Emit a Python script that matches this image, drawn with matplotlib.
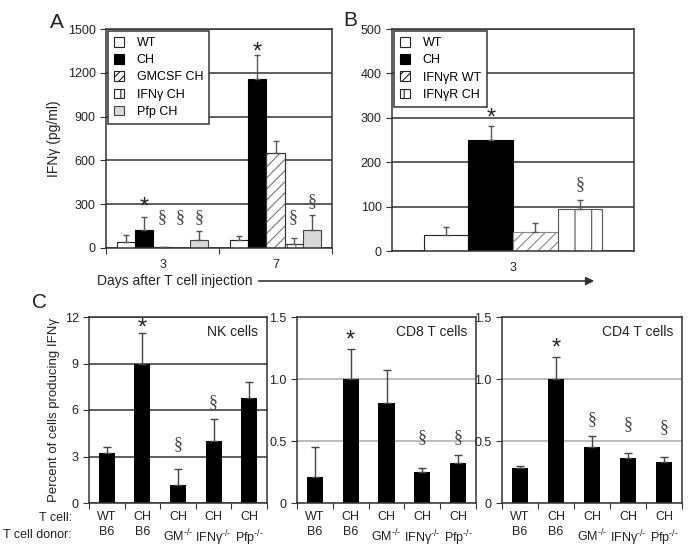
import matplotlib
matplotlib.use('Agg')
import matplotlib.pyplot as plt
import matplotlib.patches as mpatches
import numpy as np

plt.rcParams['font.family'] = ['Liberation Sans', 'DejaVu Sans']
plt.rcParams['font.size'] = 9
plt.rcParams['mathtext.fontset'] = 'custom'
plt.rcParams['mathtext.rm'] = 'Liberation Sans'
plt.rcParams['hatch.linewidth'] = 0.8

W, H = 693, 549

## Data ##
# panel A: IFNg in serum (pg/ml), days 3 and 7
a_days = ['3', '7']
a_groups = ['WT', 'CH', 'GMCSF CH', 'IFNγ CH', 'Pfp CH']
a_vals = [[41, 126, 5, 0, 57],
          [52, 1160, 651, 30, 121]]
a_errtop = [[87, 212, 9, 0, 114],
            [84, 1324, 731, 70, 228]]
a_marks = [['', '*', '§', '§', '§'],
           ['', '*', '', '§', '§']]
a_mark_y = [[0, 315, 205, 205, 205],
            [0, 1377, 0, 205, 315]]

# panel B
b_days = ['3']
b_groups = ['WT', 'CH', 'IFNγR WT', 'IFNγR CH']
b_vals = [36, 249, 42, 95]
b_errtop = [53, 282, 64, 115]
b_marks = ['', '*', '', '§']
b_mark_y = [0, 311, 0, 149]

# panel C
KO = '$^{\\mathregular{\u2010/\u2010}}$'
c_tcell = ['WT', 'CH', 'CH', 'CH', 'CH']
c_donor = ['B6', 'B6', 'GM' + KO, 'IFNγ' + KO, 'Pfp' + KO]
nk_vals = [3.2, 9.0, 1.16, 4.0, 6.75]
nk_err = [3.6, 11.0, 2.2, 5.4, 7.8]
nk_marks = ['', '*', '§', '§', '']
nk_mark_y = [0, 11.6, 3.74, 6.5, 0]
cd8_vals = [0.21, 1.0, 0.81, 0.25, 0.32]
cd8_err = [0.45, 1.24, 1.07, 0.28, 0.39]
cd8_marks = ['', '*', '', '§', '§']
cd8_mark_y = [0, 1.355, 0, 0.53, 0.53]
cd4_vals = [0.28, 1.0, 0.45, 0.36, 0.33]
cd4_err = [0.30, 1.18, 0.54, 0.40, 0.37]
cd4_marks = ['', '*', '§', '§', '§']
cd4_mark_y = [0, 1.29, 0.67, 0.63, 0.61]


def box(l, t, r, b):  # pixel box -> figure fraction
    return [l / W, 1 - b / H, (r - l) / W, (b - t) / H]


a_styles = [dict(color='white', edgecolor='#222'),
            dict(color='black', edgecolor='black'),
            dict(color='white', edgecolor='#777', hatch='///'),
            dict(color='white', edgecolor='#777', hatch='||'),
            dict(color='#d8d8d8', edgecolor='#444')]
b_styles = [dict(color='white', edgecolor='#222'),
            dict(color='black', edgecolor='black'),
            dict(color='white', edgecolor='#888', hatch='///'),
            dict(color='white', edgecolor='#555', hatch='|')]


def mark(ax, x, y, s):
    if s == '*':
        # asterisk glyph sits high in its box, nudge it down a little
        ax.annotate(s, (x, y), xytext=(0, -4), textcoords='offset points',
                    ha='center', va='center', fontsize=17, color='#222')
    elif s:
        ax.text(x, y, s, ha='center', va='center', fontsize=13, color='#444',
                family='Liberation Serif')


def frame(ax, gridcolor):
    ax.set_axisbelow(True)
    ax.yaxis.grid(True, color=gridcolor, lw=1.1)
    for s in ax.spines.values():
        s.set_color('#333')
        s.set_linewidth(1.1)
    ax.tick_params(axis='y', direction='out', length=4, color='#333', labelcolor='#222')


def legend(ax, handles, labels):
    leg = ax.legend(handles, labels, loc='upper left', bbox_to_anchor=(0.0, 1.0),
                    borderaxespad=0.15, fancybox=False, framealpha=1, edgecolor='#333',
                    fontsize=9, handlelength=0.8, handleheight=0.8, handletextpad=1.0,
                    labelspacing=0.4, borderpad=0.5)
    leg.get_frame().set_linewidth(1.1)


fig = plt.figure(figsize=(W / 100, H / 100), dpi=100)

## Panel A ##
ax = fig.add_axes(box(106, 29, 332, 248))
bw = 0.16
for d in range(len(a_days)):
    for g in range(len(a_groups)):
        x = d + (g - 2) * bw
        st = a_styles[g]
        ax.bar(x, a_vals[d][g], bw, color=st['color'], edgecolor=st['edgecolor'],
               hatch=st.get('hatch'), lw=0.8, zorder=2)
        if st.get('hatch'):
            ax.bar(x, a_vals[d][g], bw, fill=False, edgecolor='#333', lw=0.8, zorder=2)
        if a_errtop[d][g] > a_vals[d][g]:
            ax.errorbar(x, a_vals[d][g], yerr=[[0], [a_errtop[d][g] - a_vals[d][g]]],
                        fmt='none', ecolor='#555', capsize=2.5, elinewidth=1, zorder=3)
        mark(ax, x, a_mark_y[d][g], a_marks[d][g])
ax.set_xlim(-0.5, 1.5)
ax.set_ylim(0, 1500)
ax.set_yticks([0, 300, 600, 900, 1200, 1500])
ax.set_xticks([-0.5, 0.5, 1.5])
ax.set_xticklabels([])
ax.set_xticks([0, 1], minor=True)
ax.set_xticklabels(a_days, minor=True)
ax.tick_params(axis='x', which='major', direction='out', length=4, color='#333')
ax.tick_params(axis='x', which='minor', length=0, pad=8, labelcolor='#222')
frame(ax, '#333')
ax.set_ylabel('IFNγ (pg/ml)', fontsize=10, color='#222', labelpad=5)
legend(ax, [mpatches.Patch(facecolor='white', edgecolor='#222', lw=0.8),
            mpatches.Patch(facecolor='black', edgecolor='black', lw=0.8),
            mpatches.Patch(facecolor='white', edgecolor='#222', hatch='////', lw=0.8),
            mpatches.Patch(facecolor='white', edgecolor='#222', hatch='||', lw=0.8),
            mpatches.Patch(facecolor='#d8d8d8', edgecolor='#444', lw=0.8)], a_groups)

## Panel B ##
ax = fig.add_axes(box(392, 29, 634, 251))
bw = 0.184
for g in range(len(b_groups)):
    x = (g - 1.5) * bw
    st = b_styles[g]
    ax.bar(x, b_vals[g], bw, color=st['color'], edgecolor=st['edgecolor'],
           hatch=st.get('hatch'), lw=0.8, zorder=2)
    ax.errorbar(x, b_vals[g], yerr=[[0], [b_errtop[g] - b_vals[g]]],
                fmt='none', ecolor='#555', capsize=2.5, elinewidth=1, zorder=3)
    mark(ax, x, b_mark_y[g], b_marks[g])
ax.set_xlim(-0.5, 0.5)
ax.set_ylim(0, 500)
ax.set_yticks([0, 100, 200, 300, 400, 500])
ax.set_xticks([0])
ax.set_xticklabels(b_days)
ax.tick_params(axis='x', length=0, pad=8, labelcolor='#222')
frame(ax, '#333')
legend(ax, [mpatches.Patch(facecolor='white', edgecolor='#222', lw=0.8),
            mpatches.Patch(facecolor='black', edgecolor='black', lw=0.8),
            mpatches.Patch(facecolor='white', edgecolor='#222', hatch='////', lw=0.8),
            mpatches.Patch(facecolor='white', edgecolor='#222', hatch='||', lw=0.8)], b_groups)

# shared x label with arrow
fig.text(97 / W, 1 - 281 / H, 'Days after T cell injection', ha='left', va='center',
         fontsize=10, color='#222')
fig.add_artist(mpatches.FancyArrowPatch((256 / W, 1 - 281 / H), (597 / W, 1 - 281 / H),
                                        transform=fig.transFigure, arrowstyle='-|>',
                                        mutation_scale=12, color='#333', lw=1.2))

## Panel C ##
panels = [(89, 267, nk_vals, nk_err, nk_marks, nk_mark_y, 'NK cells', [0, 3, 6, 9, 12], ['0', '3', '6', '9', '12'], 12, '#333'),
          (297, 476, cd8_vals, cd8_err, cd8_marks, cd8_mark_y, 'CD8 T cells', [0, 0.5, 1.0, 1.5], ['0', '0.5', '1.0', '1.5'], 1.5, '#aaa'),
          (502, 682, cd4_vals, cd4_err, cd4_marks, cd4_mark_y, 'CD4 T cells', [0, 0.5, 1.0, 1.5], ['0', '0.5', '1.0', '1.5'], 1.5, '#aaa')]
xs = np.arange(5)
for i, (l, r, vals, err, marks, mark_y, title, yt, ytl, ymax, gc) in enumerate(panels):
    ax = fig.add_axes(box(l, 317, r, 503))
    ax.bar(xs, vals, 0.45, color='black', zorder=2)
    ax.errorbar(xs, vals, yerr=[np.zeros(5), np.array(err) - np.array(vals)],
                fmt='none', ecolor='#444', capsize=3, elinewidth=1, zorder=3)
    for x in xs:
        mark(ax, x, mark_y[x], marks[x])
    ax.set_xlim(-0.5, 4.5)
    ax.set_ylim(0, ymax)
    ax.set_yticks(yt)
    ax.set_yticklabels(ytl)
    ax.set_xticks(np.arange(-0.5, 5, 1))
    ax.set_xticklabels([])
    ax.set_xticks(xs, minor=True)
    ax.set_xticklabels([a + '\n' + b for a, b in zip(c_tcell, c_donor)], minor=True,
                       linespacing=1.35)
    ax.tick_params(axis='x', which='major', direction='out', length=4, color='#333')
    ax.tick_params(axis='x', which='minor', length=0, pad=6, labelcolor='#222')
    frame(ax, gc)
    ax.text(0.95, 0.92, title, transform=ax.transAxes, ha='right', va='center',
            fontsize=10, color='#222')
    if i == 0:
        ax.set_ylabel('Percent of cells producing IFNγ', fontsize=9.5, color='#222', labelpad=3)

fig.text(72 / W, 1 - 518 / H, 'T cell:', ha='right', va='center', color='#222')
fig.text(72 / W, 1 - 535 / H, 'T cell donor:', ha='right', va='center', color='#222')

# panel letters
fig.text(50 / W, 1 - 22 / H, 'A', fontsize=15, va='center', color='#222')
fig.text(343 / W, 1 - 21 / H, 'B', fontsize=15, va='center', color='#222')
fig.text(32 / W, 1 - 303 / H, 'C', fontsize=15, va='center', color='#222')

fig.savefig('out.png', dpi=100)
